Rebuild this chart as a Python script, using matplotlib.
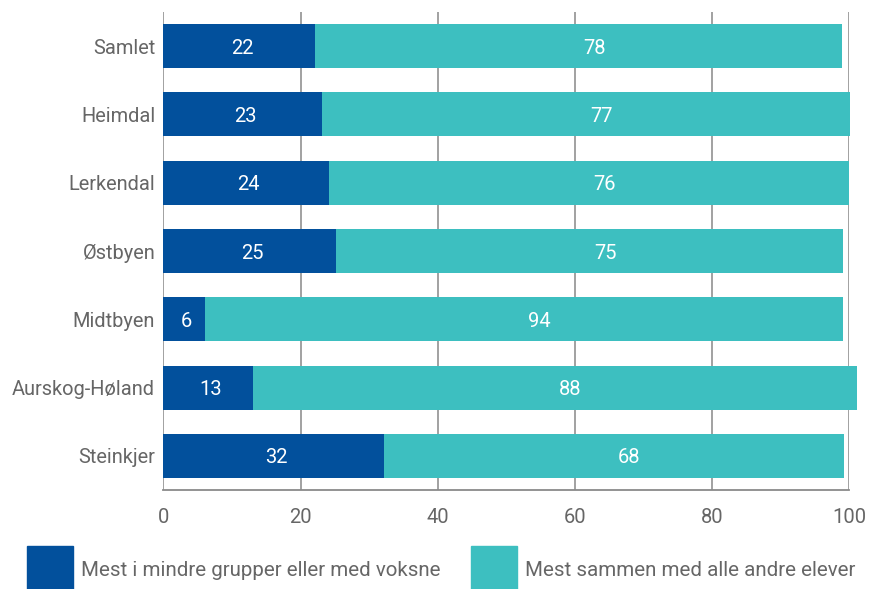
import matplotlib.pyplot as plt
from matplotlib.patches import Rectangle

plt.rcParams['font.family'] = ['Roboto', 'DejaVu Sans']

# Data
categories = ["Samlet", "Heimdal", "Lerkendal", "Østbyen", "Midtbyen", "Aurskog-Høland", "Steinkjer"]
small_groups = [22.1, 23.1, 24.1, 25.2, 6.0, 13.0, 32.1]
with_class = [76.8, 77.0, 75.9, 73.9, 93.1, 88.1, 67.1]
small_labels = [22, 23, 24, 25, 6, 13, 32]
class_labels = [78, 77, 76, 75, 94, 88, 68]
series_names = ["Mest i mindre grupper eller med voksne", "Mest sammen med alle andre elever"]
colors = ["#02509C", "#3DBFC0"]
x_ticks = [0, 20, 40, 60, 80, 100]

text_grey = "#666666"

fig = plt.figure(figsize=(8.69, 5.89), dpi=100)
ax = fig.add_axes([0.1881, 0.1681, 0.7892, 0.8115])

y = list(range(len(categories)))
bar_h = 0.645
ax.barh(y, small_groups, height=bar_h, color=colors[0], zorder=3, clip_on=False)
ax.barh(y, with_class, left=small_groups, height=bar_h, color=colors[1], zorder=3, clip_on=False)

# Value labels in the middle of each segment
for i in y:
    ax.text(small_groups[i] / 2 + 0.4, i + 0.03, str(small_labels[i]), ha="center", va="center",
            color="white", fontsize=14.5, zorder=4)
    ax.text(small_groups[i] + with_class[i] / 2 + 2.3, i + 0.03, str(class_labels[i]), ha="center",
            va="center", color="white", fontsize=14.5, zorder=4)

ax.set_xlim(0, 100)
ax.set_ylim(len(categories) - 0.5, -0.5)
ax.set_yticks(y)
ax.set_yticklabels(categories, va="center_baseline")
ax.set_xticks(x_ticks)

ax.tick_params(axis="y", length=0, pad=6, labelsize=14.4, labelcolor=text_grey)
ax.tick_params(axis="x", length=0, pad=13, labelsize=14.5, labelcolor=text_grey)

ax.grid(axis="x", color="#9a9a9a", linewidth=1.3, zorder=0)
for side in ["top", "right", "left"]:
    ax.spines[side].set_visible(False)
ax.spines["bottom"].set_color("#8a8a8a")
ax.spines["bottom"].set_linewidth(1.3)

# Legend drawn in figure space
legend_x = [27, 471]
for k, name in enumerate(series_names):
    x0 = legend_x[k] / 869
    fig.patches.append(Rectangle((x0, 0.0), 46 / 869, 43 / 589, transform=fig.transFigure,
                                 color=colors[k], figure=fig))
    fig.text(x0 + 54 / 869, 1 - 570 / 589, name, ha="left", va="center",
             fontsize=14.8, color=text_grey)

fig.savefig("out.png", dpi=100)
